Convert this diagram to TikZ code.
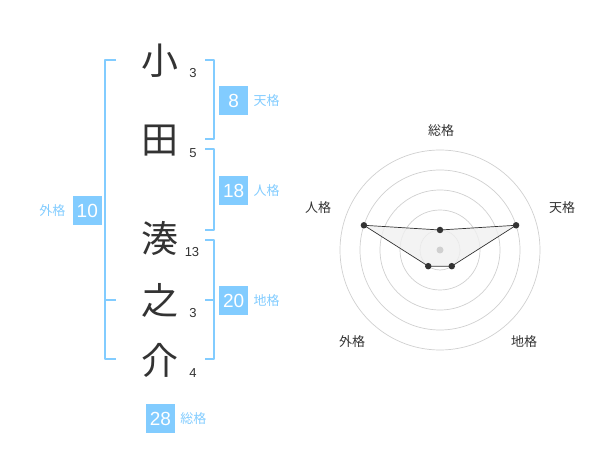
\documentclass[tikz,border=0pt]{standalone}
\usepackage{fontspec}
\setmainfont{Liberation Sans}
\newfontfamily\cjk{Noto Sans CJK JP}
\usetikzlibrary{positioning,calc}
\definecolor{kakublue}{RGB}{130,204,255}
\definecolor{inkgray}{RGB}{51,51,51}
\definecolor{ringgray}{RGB}{208,208,208}
\definecolor{areagray}{RGB}{240,240,240}
\begin{document}
\begin{tikzpicture}[x=1pt,y=-1pt,line join=round,line cap=butt,
    moji/.style={inner sep=0,text=inkgray,font=\cjk\fontsize{37}{37}\selectfont},
    kaku/.style={inner sep=0,text=inkgray,font=\fontsize{13}{13}\selectfont},
    score/.style={fill=kakublue,text=white,minimum size=29pt,inner sep=0,font=\fontsize{19}{19}\selectfont},
    kname/.style={inner sep=0,text=kakublue,font=\cjk\fontsize{13}{13}\selectfont},
    rname/.style={inner sep=0,text=inkgray,font=\cjk\fontsize{13}{13}\selectfont},
    brace/.style={kakublue,line width=1.8pt},
    dot/.style={circle,fill=inkgray,inner sep=0,minimum size=6.5pt}]
  \useasboundingbox (0,0) rectangle (600,470);

  % name and stroke counts
  \node[moji] (c1) at (160,61) {小};
  \node[moji] (c2) at (160,141) {田};
  \node[moji] (c3) at (160,238) {湊};
  \node[moji] (c4) at (160,300) {之};
  \node[moji] (c5) at (160,360) {介};
  \node[kaku] (k1) at (193,73) {3};
  \node[kaku] (k2) at (193,153) {5};
  \node[kaku] (k3) at (192,252) {13};
  \node[kaku] (k4) at (193,313) {3};
  \node[kaku] (k5) at (193,373) {4};

  % brackets
  \draw[brace] (116,60) -| (105,359) -- (116,359);
  \draw[brace] (105,300) -- (116,300);
  \draw[brace] (205,60) -| (214,139) -- (205,139);
  \draw[brace] (205,149) -| (214,230) -- (205,230);
  \draw[brace] (205,240) -| (214,359) -- (205,359);
  \draw[brace] (205,300) -- (214,300);
  \coordinate (ten) at (214,101);
  \coordinate (jin) at (214,191);
  \coordinate (chi) at (214,301);
  \coordinate (gai) at (105,211);

  % scores
  \node[score,right=5pt of ten] (s8) {8};
  \node[kname,right=5pt of s8] (l8) {天格};
  \node[score,right=5pt of jin] (s18) {18};
  \node[kname,right=5pt of s18] (l18) {人格};
  \node[score,right=5pt of chi] (s20) {20};
  \node[kname,right=5pt of s20] (l20) {地格};
  \node[score,left=3pt of gai] (s10) {10};
  \node[kname,left=7pt of s10] (l10) {外格};
  \node[score] (s28) at (160.5,418.5) {28};
  \node[kname,right=5pt of s28] (l28) {総格};

  % radar
  \coordinate (ctr) at (440,250);
  \foreach \r in {20,40,...,100}
    \draw[ringgray,line width=0.7pt] (ctr) circle (\r);
  \begin{scope}[y=1pt]
    \foreach \a/\r/\n in {90/20/sou,18/80/ten,-54/20/chi,234/20/gai,162/80/jin}
      \coordinate (p\n) at ($(ctr)+(\a:\r)$);
  \end{scope}
  \filldraw[fill=areagray,fill opacity=0.8,draw=inkgray,line width=0.7pt]
    (psou) -- (pten) -- (pchi) -- (pgai) -- (pjin) -- cycle;
  \fill[ringgray] (ctr) circle (3.5);
  \foreach \n in {sou,ten,chi,gai,jin}
    \node[dot] (d\n) at (p\n) {};
  \node[rname] (rsou) at (441,131) {総格};
  \node[rname] (rten) at (562,208) {天格};
  \node[rname] (rjin) at (318,208) {人格};
  \node[rname] (rchi) at (524,342) {地格};
  \node[rname] (rgai) at (352,342) {外格};
\end{tikzpicture}
\end{document}
